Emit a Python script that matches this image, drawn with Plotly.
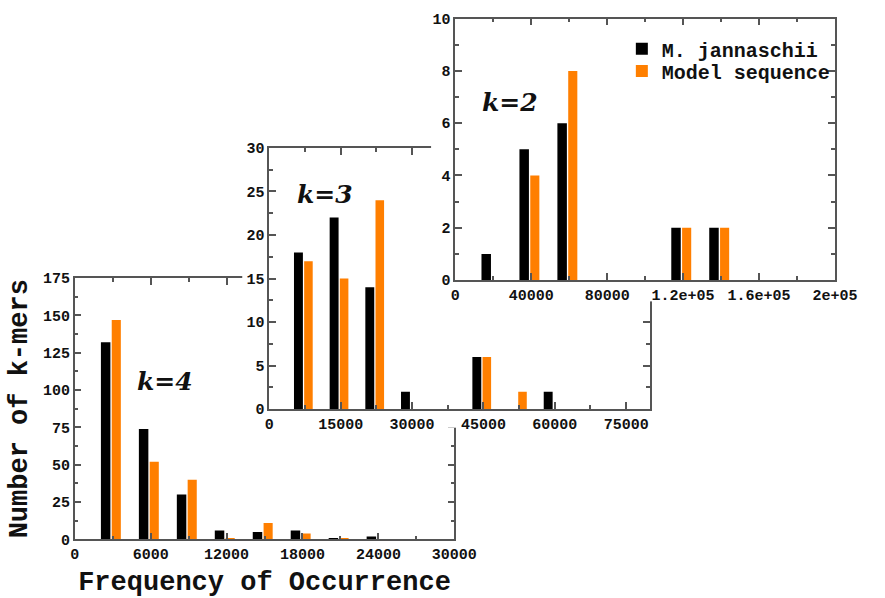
import plotly.graph_objects as go

# ---------------- data ----------------
series_names = ["M. jannaschii", "Model sequence"]

k4_bins = [3000, 6000, 9000, 12000, 15000, 18000, 21000, 24000]
k4_mj = [132, 74, 30, 6, 5, 6, 1, 2]
k4_model = [147, 52, 40, 1, 11, 4, 1, 0]

k3_bins = [7500, 15000, 22500, 30000, 37500, 45000, 52500, 60000]
k3_mj = [18, 22, 14, 2, 0, 6, 0, 2]
k3_model = [17, 15, 24, 0, 0, 6, 2, 0]

k2_bins = [20000, 40000, 60000, 80000, 100000, 120000, 140000, 160000]
k2_mj = [1, 5, 6, 0, 0, 2, 2, 0]
k2_model = [0, 4, 8, 0, 0, 2, 2, 0]

k4_xticks = [0, 6000, 12000, 18000, 24000, 30000]
k3_xticks = [0, 15000, 30000, 45000, 60000, 75000]
k2_xticks = [0, 40000, 80000, 120000, 160000, 200000]
k2_xticktext = ["0", "40000", "80000", "1.2e+05", "1.6e+05", "2e+05"]

panel_labels = ["k=4", "k=3", "k=2"]

# ---------------- style ----------------
W, H = 885, 598
BLACK = "#000000"
ORANGE = "#FF7F00"
LINE = "#555555"
MONO = "Liberation Mono, Courier New, monospace"
tickfont = dict(family=MONO, size=15, color="#111111", weight="bold")


def px_dom_x(a, b):
    return [a / W, b / W]


def px_dom_y(top, bottom):
    return [(H - bottom) / H, (H - top) / H]


fig = go.Figure()


def add_pair(bins, mj, model, step, xa, ya, legend_on):
    fig.add_trace(go.Bar(
        x=bins, y=mj, name=series_names[0], marker=dict(color=BLACK, line=dict(width=0)),
        offset=-0.31 * step, width=0.25 * step, xaxis=xa, yaxis=ya,
        showlegend=legend_on, legend="legend"))
    fig.add_trace(go.Bar(
        x=bins, y=model, name=series_names[1], marker=dict(color=ORANGE, line=dict(width=0)),
        offset=-0.025 * step, width=0.24 * step, xaxis=xa, yaxis=ya,
        showlegend=legend_on, legend="legend2"))


def add_cover_helper(xa, ya):
    # invisible helper so that the white "sheet" subplot exists and is layered
    fig.add_trace(go.Scatter(x=[0.5], y=[0.5], xaxis=xa, yaxis=ya, mode="markers",
                             marker=dict(opacity=0, size=1), hoverinfo="skip",
                             showlegend=False))


add_pair(k4_bins, k4_mj, k4_model, 3000, "x", "y", False)
add_cover_helper("x2", "y2")
add_pair(k3_bins, k3_mj, k3_model, 7500, "x3", "y3", False)
add_cover_helper("x4", "y4")
add_pair(k2_bins, k2_mj, k2_model, 20000, "x5", "y5", True)


def minor(dt):
    return dict(dtick=dt, ticks="inside", ticklen=4, tickcolor=LINE, tickwidth=1.5)


def axis(domain, rng, anchor, **kw):
    d = dict(domain=domain, range=rng, anchor=anchor, showline=True, linecolor=LINE,
             linewidth=1.5, mirror="allticks", ticks="inside", ticklen=7, tickwidth=1.5,
             tickcolor=LINE, showgrid=False, zeroline=False, tickfont=tickfont,
             fixedrange=True)
    d.update(kw)
    return d


def cover(domain, anchor):
    return dict(domain=domain, anchor=anchor, visible=False, showgrid=False,
                zeroline=False, range=[0, 1], fixedrange=True)


title_font = dict(family=MONO, size=27, color="#111111", weight="bold")
legend_font = dict(family=MONO, size=20, color="#111111", weight="bold")

layout = dict(
    width=W, height=H, margin=dict(l=0, r=0, t=0, b=0),
    paper_bgcolor="white", plot_bgcolor="white", barmode="overlay",
    # k=4 panel
    xaxis=axis(px_dom_x(72, 464), [0, 30000], "y", tickvals=k4_xticks, tickformat="d",
               minor=minor(3000),
               title=dict(text="Frequency of Occurrence", font=title_font)),
    yaxis=axis(px_dom_y(279, 548), [0, 175], "x", dtick=25, minor=minor(12.5),
               title=dict(text="Number of k-mers", font=title_font, standoff=7)),
    # white sheet behind k=3 panel
    xaxis2=cover(px_dom_x(245, 680), "y2"),
    yaxis2=cover(px_dom_y(135, 433), "x2"),
    # k=3 panel
    xaxis3=axis(px_dom_x(273, 666), [0, 80000], "y3", tickvals=k3_xticks, tickformat="d",
                minor=minor(7500)),
    yaxis3=axis(px_dom_y(145, 414), [0, 30], "x3", dtick=5, minor=minor(2.5)),
    # white sheet behind k=2 panel
    xaxis4=cover(px_dom_x(440, 885), "y4"),
    yaxis4=cover(px_dom_y(0, 303), "x4"),
    # k=2 panel
    xaxis5=axis(px_dom_x(465, 857), [0, 200000], "y5", tickvals=k2_xticks, ticktext=k2_xticktext,
                minor=minor(20000)),
    yaxis5=axis(px_dom_y(12, 281), [0, 10], "x5", dtick=2, minor=minor(1)),
    legend=dict(x=637 / W, y=1 - 43 / H, xanchor="left", yanchor="middle",
                bgcolor="rgba(0,0,0,0)", font=legend_font),
    legend2=dict(x=637 / W, y=1 - 66 / H, xanchor="left", yanchor="middle",
                 bgcolor="rgba(0,0,0,0)", font=legend_font),
)
fig.update_layout(**layout)

label_font = dict(family="DejaVu Serif", size=25, color="#111111", weight="bold", style="italic")
label_pos = [("x", "y", 0.237, 0.606), ("x3", "y3", 0.145, 0.822), ("x5", "y5", 0.145, 0.680)]
for text, (xr, yr, lx, ly) in zip(panel_labels, label_pos):
    fig.add_annotation(text=text, xref=xr + " domain", yref=yr + " domain", x=lx, y=ly,
                       showarrow=False, font=label_font, xanchor="center", yanchor="middle")

fig.write_html("out.html")
